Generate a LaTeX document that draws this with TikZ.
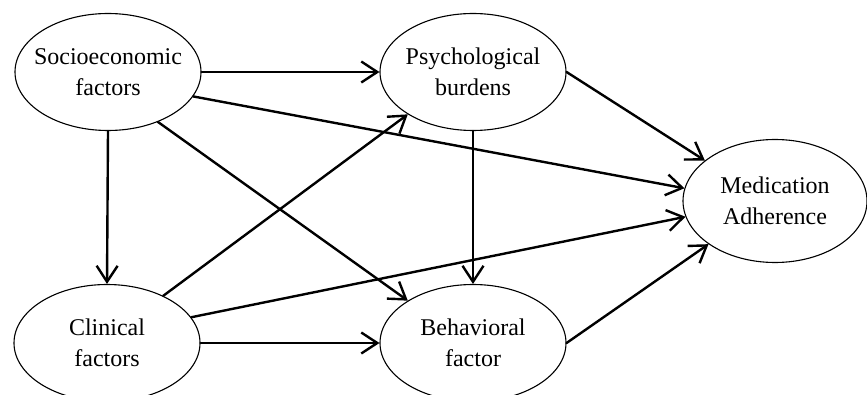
\documentclass[tikz,border=0pt]{standalone}
\usepackage{fontspec}
\setmainfont{Liberation Serif}
\usepackage{tikz}
\usetikzlibrary{arrows.meta}
\usetikzlibrary{shapes.geometric}
\tikzstyle{every node}=[font=\fontsize{24}{31}\selectfont]

\begin{document}
\begin{tikzpicture}[line cap=round,line join=round,>={Straight Barb[length=16pt,width=21pt]},x=1pt,y=1pt,
  factor/.style={ellipse,draw,line width=1.1pt,minimum width=186pt,minimum height=117pt,inner xsep=-14pt,inner ysep=0pt,text depth=-11pt,align=center},
  link/.style={->,line width=2.4pt}]
            \useasboundingbox (0,0) rectangle (867,394);
            \clip (0,0) rectangle (867,394);
            \node[factor] (socio) at (108,322) {Socioeconomic\\factors};
            \node[factor] (psych) at (473,322) {Psychological\\burdens};
            \node[factor,minimum width=184pt,minimum height=123pt] (med) at (775,193) {Medication\\Adherence};
            \node[factor] (clin) at (107,51) {Clinical\\factors};
            \node[factor] (behav) at (473,51) {Behavioral\\factor};
            \draw [link] (socio.east) -- (psych.west);
            \draw [link] (socio.344) -- (med.172);
            \draw [link] (socio.south) -- (clin.north);
            \draw [link] (socio.315) -- (behav.147);
            \draw [link] (clin.40) -- (psych.213);
            \draw [link] (clin.17) -- (med.190);
            \draw [link] (clin.east) -- (behav.west);
            \draw [link] (psych.south) -- (behav.north);
            \draw [link] (psych.east) -- (med.150);
            \draw [link] (behav.east) -- (med.213);
            \end{tikzpicture}
\end{document}
